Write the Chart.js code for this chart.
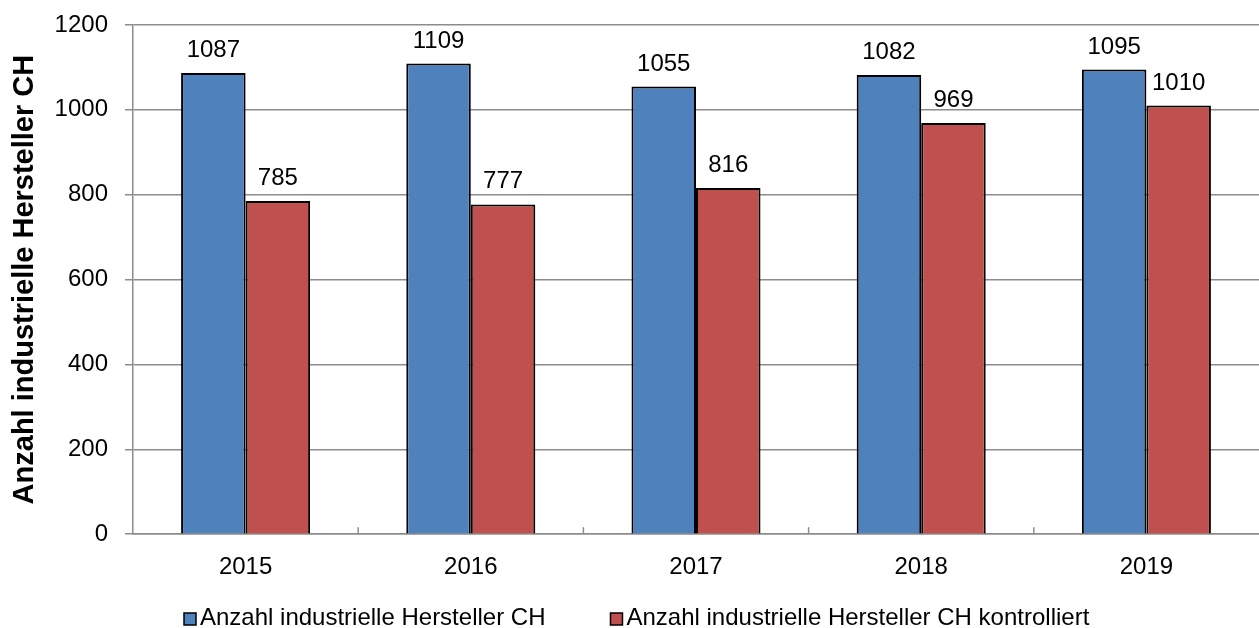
<!DOCTYPE html>
<html>
<head>
<meta charset="utf-8">
<script src="https://cdn.jsdelivr.net/npm/chart.js@4"></script>
<style>
  html, body { margin: 0; padding: 0; background: #fff; }
  #wrap { width: 1259px; height: 628px; }
</style>
</head>
<body>
<div id="wrap"><canvas id="chart" width="1259" height="628"></canvas></div>
<script>
// ── data ────────────────────────────────────────────────────────────────
const years = ['2015', '2016', '2017', '2018', '2019'];
const herstellerTotal = [1087, 1109, 1055, 1082, 1095];
const herstellerKontrolliert = [785, 777, 816, 969, 1010];
const yTicks = [0, 200, 400, 600, 800, 1000, 1200];

const seriesNames = [
  'Anzahl industrielle Hersteller CH',
  'Anzahl industrielle Hersteller CH kontrolliert'
];
const blue = '#4F81BD';
const red  = '#C0504D';
const gridGrey = '#8c8c8c';
const FONT = 'Arial, "Liberation Sans", sans-serif';

// ── value labels above each bar ─────────────────────────────────────────
const valueLabels = {
  id: 'valueLabels',
  afterDatasetsDraw(chart) {
    const ctx = chart.ctx;
    ctx.save();
    ctx.font = '24px ' + FONT;
    ctx.fillStyle = '#000';
    ctx.textAlign = 'center';
    ctx.textBaseline = 'alphabetic';
    chart.data.datasets.forEach((ds, di) => {
      chart.getDatasetMeta(di).data.forEach((bar, i) => {
        ctx.fillText(String(ds.data[i]), bar.x, bar.y - 16);
      });
    });
    ctx.restore();
  }
};

// ── small inward tick marks between categories ──────────────────────────
const categoryTicks = {
  id: 'categoryTicks',
  afterDraw(chart) {
    const x = chart.scales.x;
    const ctx = chart.ctx;
    ctx.save();
    ctx.strokeStyle = gridGrey;
    ctx.lineWidth = 1.5;
    for (let i = 0; i < years.length - 1; i++) {
      const px = (x.getPixelForValue(i) + x.getPixelForValue(i + 1)) / 2;
      ctx.beginPath();
      ctx.moveTo(px, x.top - 7);
      ctx.lineTo(px, x.top);
      ctx.stroke();
    }
    ctx.restore();
  }
};

// ── legend row at the bottom ────────────────────────────────────────────
const bottomLegend = {
  id: 'bottomLegend',
  afterDraw(chart) {
    const ctx = chart.ctx;
    ctx.save();
    ctx.font = '24px ' + FONT;
    ctx.textBaseline = 'alphabetic';
    ctx.textAlign = 'left';
    const base = 625;
    let x = 184;
    chart.data.datasets.forEach((ds) => {
      ctx.fillStyle = ds.backgroundColor;
      ctx.fillRect(x, base - 12, 12, 12);
      ctx.strokeStyle = '#000';
      ctx.lineWidth = 1.5;
      ctx.strokeRect(x, base - 12, 12, 12);
      ctx.fillStyle = '#000';
      ctx.fillText(ds.label, x + 16, base);
      x += 16 + ctx.measureText(ds.label).width + 65;
    });
    ctx.restore();
  }
};

new Chart(document.getElementById('chart'), {
  type: 'bar',
  data: {
    labels: years,
    datasets: [
      {
        label: seriesNames[0],
        data: herstellerTotal,
        backgroundColor: blue,
        borderColor: '#000',
        borderWidth: 2,
        barPercentage: 1.0,
        categoryPercentage: 0.573
      },
      {
        label: seriesNames[1],
        data: herstellerKontrolliert,
        backgroundColor: red,
        borderColor: '#000',
        borderWidth: 2,
        barPercentage: 1.0,
        categoryPercentage: 0.573
      }
    ]
  },
  options: {
    responsive: false,
    animation: false,
    layout: { padding: { top: 25, right: 0, bottom: 27, left: 0 } },
    plugins: {
      legend: { display: false },
      tooltip: { enabled: false }
    },
    scales: {
      x: {
        grid: { display: true, drawOnChartArea: false, drawTicks: false, color: gridGrey },
        border: { color: gridGrey, width: 1.5 },
        ticks: { color: '#000', font: { family: FONT, size: 24 }, padding: 19 }
      },
      y: {
        min: 0,
        max: 1200,
        afterBuildTicks: (scale) => { scale.ticks = yTicks.map(v => ({ value: v })); },
        afterFit: (scale) => {
          scale.width = 133;
          scale.paddingTop = 0;
          scale.paddingBottom = 0;
        },
        grid: { color: gridGrey, lineWidth: 1.5, tickLength: 8 },
        border: { color: gridGrey, width: 1.5 },
        ticks: { color: '#000', font: { family: FONT, size: 24 }, padding: 17, callback: (v) => String(v) },
        title: {
          display: true,
          text: seriesNames[0],
          color: '#000',
          font: { family: FONT, size: 29, weight: 'bold' },
          padding: { top: 8, bottom: 0 }
        }
      }
    }
  },
  plugins: [valueLabels, categoryTicks, bottomLegend]
});
</script>
</body>
</html>
